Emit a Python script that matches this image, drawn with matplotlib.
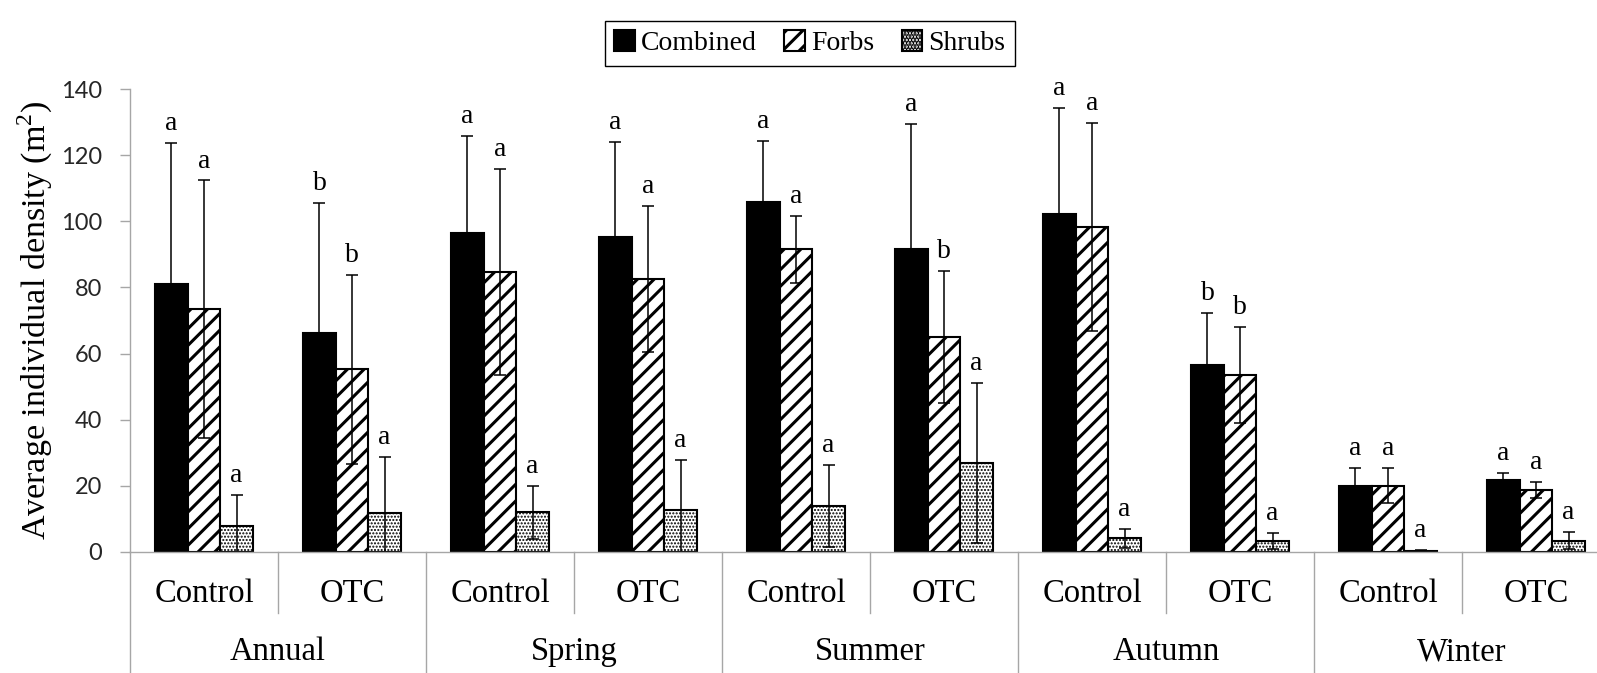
import matplotlib
matplotlib.use("Agg")
import matplotlib.pyplot as plt
from matplotlib.lines import Line2D
from matplotlib.patches import Patch
import numpy as np

# values (means and error bar half-widths)
seasons = ['Annual', 'Spring', 'Summer', 'Autumn', 'Winter']
treatments = ['Control', 'OTC']

combined = [81.0, 66.1, 96.4, 95.2, 105.9, 91.6, 102.1, 56.5, 20.0, 21.8]
combined_err = [42.8, 39.4, 29.5, 28.8, 18.5, 38.0, 32.3, 15.7, 5.3, 1.9]
forbs = [73.4, 55.2, 84.6, 82.6, 91.5, 65.1, 98.4, 53.5, 20.0, 18.7]
forbs_err = [39.0, 28.5, 31.2, 22.0, 10.1, 20.0, 31.5, 14.6, 5.4, 2.5]
shrubs = [7.9, 11.6, 11.9, 12.6, 13.9, 26.8, 4.0, 3.2, 0.3, 3.3]
shrubs_err = [9.2, 17.2, 8.0, 15.2, 12.5, 24.3, 2.8, 2.4, 0.3, 2.6]

combined_letters = ['a', 'b', 'a', 'a', 'a', 'a', 'a', 'b', 'a', 'a']
forbs_letters = ['a', 'b', 'a', 'a', 'a', 'b', 'a', 'b', 'a', 'a']
shrubs_letters = ['a'] * 10

SERIF = 'Liberation Serif'
GRAY = '#a6a6a6'

plt.rcParams['hatch.linewidth'] = 2.2
plt.rcParams['mathtext.fontset'] = 'custom'
plt.rcParams['mathtext.rm'] = SERIF

fig = plt.figure(figsize=(15.97, 6.73), dpi=100)
ax = fig.add_axes([130 / 1597, 1 - 551.7 / 673, 1 - 130 / 1597, (551.7 - 89.3) / 673])

x = np.arange(len(combined))
w = 0.22
series = [
    (combined, combined_err, combined_letters, 'black', '', 'Combined'),
    (forbs, forbs_err, forbs_letters, 'white', '//', 'Forbs'),
    (shrubs, shrubs_err, shrubs_letters, 'white', '.....', 'Shrubs'),
]

handles = []
for k, (vals, errs, letters, fc, hatch, name) in enumerate(series):
    pos = x + (k - 1) * w
    bars = ax.bar(pos, vals, w, color=fc, edgecolor='black', linewidth=1.5, hatch=hatch)
    if k == 2:
        for b in bars:
            if hasattr(b, 'set_hatch_linewidth'):
                b.set_hatch_linewidth(1.0)
    ax.errorbar(pos, vals, yerr=errs, fmt='none', ecolor='black', elinewidth=1.1,
                capsize=4.5, capthick=1.1)
    for p, v, e, lab in zip(pos, vals, errs, letters):
        ax.annotate(lab, (p, v + e), xytext=(0, 5), textcoords='offset points',
                    ha='center', va='bottom', fontsize=20, family=SERIF)
    hp = Patch(facecolor=fc, edgecolor='black', linewidth=1.5, hatch=hatch, label=name)
    handles.append(hp)

ax.set_ylim(0, 140)
ax.set_xlim(-0.5, (1597 - 130) / 148 - 0.5)
ax.set_yticks(range(0, 141, 20))
ax.set_xticks([])
ax.tick_params(axis='y', direction='out', length=7, width=1, color=GRAY, pad=13,
               labelsize=17, labelcolor='#262626')
for t in ax.get_yticklabels():
    t.set_family('Lato')
for side in ['top', 'right']:
    ax.spines[side].set_visible(False)
for side in ['left', 'bottom']:
    ax.spines[side].set_color(GRAY)
    ax.spines[side].set_linewidth(1)

ax.set_ylabel('Average individual density (m$^2$)', family=SERIF, fontsize=24.5, va='center')
ax.yaxis.set_label_coords((35 - 130) / 1467, 0.5)

# two-level category axis: treatment row, then season row
tr = ax.get_xaxis_transform()
for i in range(len(x)):
    ax.text(i, -0.092, treatments[i % 2], transform=tr, ha='center', va='center',
            fontsize=23.5, family=SERIF)
for s, name in enumerate(seasons):
    ax.text(2 * s + 0.5, -0.217, name, transform=tr, ha='center', va='center',
            fontsize=23.5, family=SERIF)
    ax.add_line(Line2D([2 * s + 0.5] * 2, [0, -0.1326], transform=tr, color=GRAY,
                       linewidth=1, clip_on=False))
    ax.add_line(Line2D([2 * s - 0.5] * 2, [0, -0.3], transform=tr, color=GRAY,
                       linewidth=1, clip_on=False))

leg = fig.legend(handles=handles, loc='upper center', bbox_to_anchor=(0.507, 0.99), ncol=3,
                 prop={'family': SERIF, 'size': 20}, frameon=True, fancybox=False,
                 edgecolor='black', framealpha=1, handlelength=0.75, handleheight=0.75,
                 handletextpad=0.2, columnspacing=1.0, borderpad=0.35)
leg.get_frame().set_linewidth(1)

fig.savefig('out.png', dpi=100)
